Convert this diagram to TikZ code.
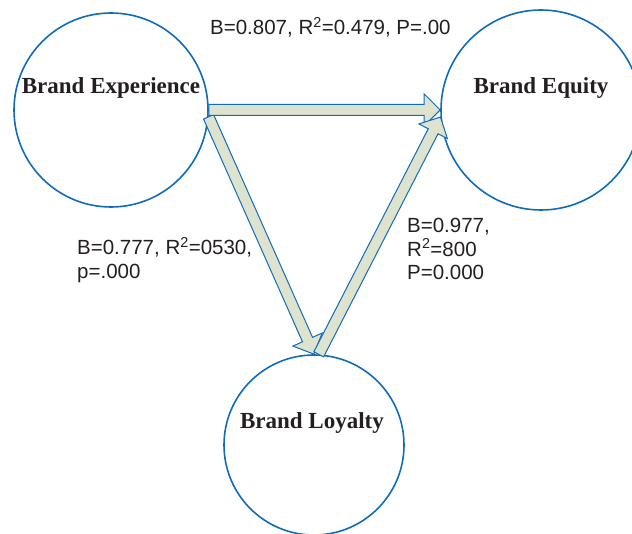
\documentclass[tikz,border=0pt]{standalone}
\usepackage{fontspec}
\setmainfont{Liberation Serif}
\setsansfont{Liberation Sans}
\usetikzlibrary{calc,positioning}

\definecolor{ringblue}{RGB}{16,108,184}
\definecolor{arrowfill}{RGB}{221,227,206}
\definecolor{inkgray}{RGB}{35,31,32}

% fat block arrow between two anchors
\newcommand{\blockarrow}[2]{%
  \coordinate (ba-s) at (#1);
  \coordinate (ba-e) at (#2);
  \coordinate (ba-h) at ($(ba-e)!16pt!(ba-s)$);
  \draw[blockarrow] ($(ba-s)!5.5pt!90:(ba-e)$) -- ($(ba-h)!5.5pt!-90:(ba-s)$)
    -- ($(ba-h)!16pt!-90:(ba-s)$) -- (ba-e) -- ($(ba-h)!16pt!90:(ba-s)$)
    -- ($(ba-h)!5.5pt!90:(ba-s)$) -- ($(ba-s)!5.5pt!-90:(ba-e)$) -- cycle;}

\begin{document}
\begin{tikzpicture}[x=1pt,y=-1pt,
    construct/.style={circle,draw=ringblue,line width=1.6pt,minimum size=#1,inner sep=0pt},
    conceptname/.style={font=\fontsize{23}{26}\selectfont\bfseries,text=inkgray,inner sep=0pt},
    stat/.style={font=\sffamily\fontsize{20.5}{23.5}\selectfont,text=inkgray,align=left,inner sep=0pt},
    blockarrow/.style={draw=ringblue,fill=arrowfill,line width=1pt,line join=miter}
]
\useasboundingbox (0,0) rectangle (632,534);

% Constructs
\node[construct=194pt] (exp) at (111,110) {};
\node[construct=200pt] (equ) at (541,110) {};
\node[construct=180pt] (loy) at (314,445) {};

\node[conceptname] (exptext) at (111,88) {Brand Experience};
\node[conceptname] (equtext) at (541,88) {Brand Equity};
\node[conceptname] (loytext) at (312,423) {Brand Loyalty};

% Paths
\blockarrow{exp.-4}{loy.north}
\blockarrow{exp.east}{equ.west}
\blockarrow{loy.87}{equ.184}

% Path coefficients
\node[stat,anchor=base west] (stattop) at (210,35) {B=0.807, R\textsuperscript{2}=0.479, P=.00};
\node[stat,anchor=north west] (statleft) at (77,237) {B=0.777, R\textsuperscript{2}=0530,\\p=.000};
\node[stat,anchor=north west] (statright) at (407,218) {B=0.977,\\R\textsuperscript{2}=800\\P=0.000};

\end{tikzpicture}
\end{document}
